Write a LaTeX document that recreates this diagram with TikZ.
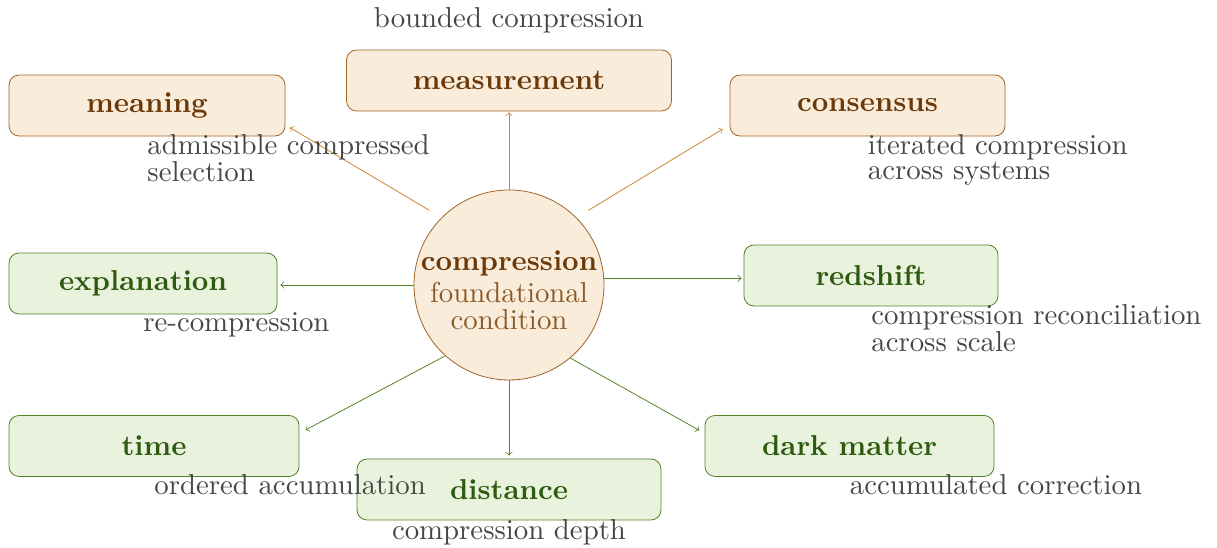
\documentclass[tikz,border=0pt]{standalone}
\usepackage{tikz}
\pgfdeclarelayer{bg}
\pgfsetlayers{bg,main}
\font\notefont="[lmroman10-regular]:mapping=tex-text" at 14.4pt
\font\headfont="[lmroman10-bold]:mapping=tex-text" at 14.4pt
\definecolor{warmfill}{RGB}{250,236,218}
\definecolor{warmline}{RGB}{160,100,40}
\definecolor{warmtext}{RGB}{108,58,10}
\definecolor{warmsoft}{RGB}{140,90,40}
\definecolor{warmarrow}{RGB}{205,135,50}
\definecolor{coolfill}{RGB}{232,242,220}
\definecolor{coolline}{RGB}{80,130,40}
\definecolor{cooltext}{RGB}{45,90,15}
\definecolor{coolarrow}{RGB}{85,130,45}
\definecolor{notegray}{RGB}{70,70,70}
\tikzset{
    box/.style={rectangle, rounded corners=5pt, draw, minimum height=1.072cm, font=\headfont},
    warmbox/.style={box, fill=warmfill, draw=warmline, text=warmtext},
    coolbox/.style={box, fill=coolfill, draw=coolline, text=cooltext},
    note/.style={font={\notefont\baselineskip=12.5pt}, text=notegray, align=left, inner sep=0pt}
}
\begin{document}
\begin{tikzpicture}
        \useasboundingbox (-8.945cm, -4.622cm) rectangle (12.442cm, 5.008cm);
        \node (v0) [circle, fill=warmfill, draw=warmline, minimum size=3.339cm, inner sep=-6pt, align=center, font={\notefont\baselineskip=13.8pt}, text=warmsoft] at (0cm, 0cm) {\rule{0pt}{15pt}{\color{warmtext}\headfont compression}\\[2.2pt]foundational\\condition};
        \node (v1) [warmbox, minimum width=4.850cm] at (-6.361cm, 3.154cm) {meaning};
        \node (v2) [warmbox, minimum width=5.711cm] at (0.000cm, 3.594cm) {measurement};
        \node (v3) [warmbox, minimum width=4.833cm] at (6.300cm, 3.154cm) {consensus};
        \node (v4) [coolbox, minimum width=4.710cm] at (-6.432cm, 0.026cm) {explanation};
        \node (v5) [coolbox, minimum width=4.464cm] at (6.361cm, 0.167cm) {redshift};
        \node (v6) [coolbox, minimum width=5.096cm] at (-6.238cm, -2.829cm) {time};
        \node (v7) [coolbox, minimum width=5.342cm] at (0.000cm, -3.594cm) {distance};
        \node (v8) [coolbox, minimum width=5.079cm] at (5.984cm, -2.829cm) {dark matter};
        % notes under the boxes
        \node (l1) [note, anchor=north west] at ([yshift=1.2pt]v1.south) {admissible compressed\\selection};
        \node (l2) [note, anchor=south] at ([yshift=8pt]v2.north) {bounded compression};
        \node (l3) [note, anchor=north west] at ([yshift=1.2pt]v3.south) {iterated compression\\across systems};
        \node (l4) [note, anchor=north west] at ([yshift=1.2pt]v4.south) {re-compression};
        \node (l5) [note, anchor=north west] at ([yshift=1.2pt]v5.south) {compression reconciliation\\across scale};
        \node (l6) [note, anchor=north west] at ([yshift=1.2pt]v6.south) {ordered accumulation};
        \node (l7) [note, anchor=north] at ([yshift=0.5pt]v7.south) {compression depth};
        \node (l8) [note, anchor=north west] at ([yshift=1.2pt]v8.south) {accumulated correction};
        \begin{pgfonlayer}{bg}
                \draw (v0.135) edge [->, warmarrow, shorten <=7pt, shorten >=2.5pt] (v1.-8);
                \draw (v0.north) edge [->, warmarrow, shorten >=0.5pt] (v2.south);
                \draw (v0.45) edge [->, warmarrow, shorten <=7pt, shorten >=4pt] (v3.-172);
                \draw (v0.west) edge [->, coolarrow, shorten >=1.5pt] (v0.west -| v4.east);
                \draw (v0.4) edge [->, coolarrow, shorten >=1pt] (v0.4 -| v5.west);
                \draw (v0.228) edge [->, coolarrow, shorten >=3.5pt] (v6.5);
                \draw (v0.south) edge [->, coolarrow, shorten >=1.5pt] (v7.north);
                \draw (v0.-50) edge [->, coolarrow, shorten >=3pt] (v8.175);
        \end{pgfonlayer}
\end{tikzpicture}
\end{document}
